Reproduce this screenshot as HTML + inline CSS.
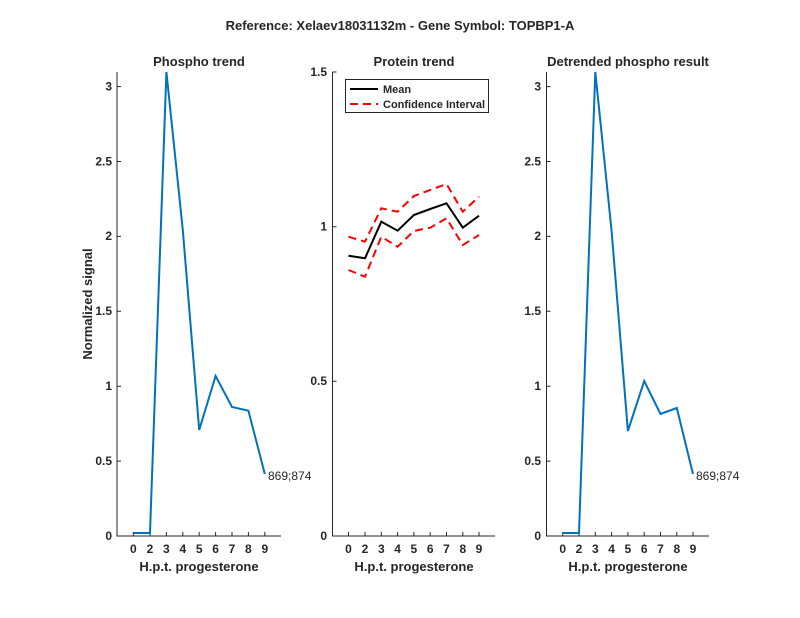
<!DOCTYPE html>
<html><head><meta charset="utf-8"><style>body{margin:0;background:#fff}svg{display:block}text{font-family:"Liberation Sans",sans-serif;fill:#262626}</style></head><body>
<svg width="800" height="618" xmlns="http://www.w3.org/2000/svg">
<text x="400" y="30" font-size="13" font-weight="bold" text-anchor="middle" fill="#000">Reference:  Xelaev18031132m - Gene Symbol:  TOPBP1-A</text>
<g stroke="#262626" stroke-width="1" fill="none">
<path d="M117,72V536H281"/>
<path d="M332.5,72V536H495"/>
<path d="M546.5,72V536H709"/>
</g>
<g stroke="#262626" stroke-width="1">
<path d="M133.3,536v-4M150,536v-4M166.4,536v-4M182.8,536v-4M199.2,536v-4M215.6,536v-4M232,536v-4M248.4,536v-4M264.8,536v-4"/>
<path d="M117,536h4M117,461.1h4M117,386.2h4M117,311.3h4M117,236.4h4M117,161.5h4M117,86.6h4"/>
<path d="M348.5,536v-4M365,536v-4M381.3,536v-4M397.6,536v-4M413.9,536v-4M430.2,536v-4M446.5,536v-4M462.8,536v-4M479,536v-4"/>
<path d="M332.5,536h4M332.5,381.3h4M332.5,226.7h4M332.5,72h4"/>
<path d="M562.7,536v-4M579,536v-4M595.3,536v-4M611.6,536v-4M627.9,536v-4M644.2,536v-4M660.5,536v-4M676.8,536v-4M693,536v-4"/>
<path d="M546.5,536h4M546.5,461.1h4M546.5,386.2h4M546.5,311.3h4M546.5,236.4h4M546.5,161.5h4M546.5,86.6h4"/>
</g>
<g font-size="12" font-weight="bold" text-anchor="middle">
<text x="133.3" y="553">0</text><text x="150" y="553">2</text><text x="166.4" y="553">3</text><text x="182.8" y="553">4</text><text x="199.2" y="553">5</text><text x="215.6" y="553">6</text><text x="232" y="553">7</text><text x="248.4" y="553">8</text><text x="264.8" y="553">9</text>
<text x="348.5" y="553">0</text><text x="365" y="553">2</text><text x="381.3" y="553">3</text><text x="397.6" y="553">4</text><text x="413.9" y="553">5</text><text x="430.2" y="553">6</text><text x="446.5" y="553">7</text><text x="462.8" y="553">8</text><text x="479" y="553">9</text>
<text x="562.7" y="553">0</text><text x="579" y="553">2</text><text x="595.3" y="553">3</text><text x="611.6" y="553">4</text><text x="627.9" y="553">5</text><text x="644.2" y="553">6</text><text x="660.5" y="553">7</text><text x="676.8" y="553">8</text><text x="693" y="553">9</text>
</g>
<g font-size="12" font-weight="bold" text-anchor="end">
<text x="112" y="540">0</text><text x="112" y="465">0.5</text><text x="112" y="390">1</text><text x="112" y="315">1.5</text><text x="112" y="240">2</text><text x="112" y="165.5">2.5</text><text x="112" y="90.5">3</text>
<text x="327" y="540">0</text><text x="327" y="385">0.5</text><text x="327" y="230.5">1</text><text x="327" y="76">1.5</text>
<text x="541" y="540">0</text><text x="541" y="465">0.5</text><text x="541" y="390">1</text><text x="541" y="315">1.5</text><text x="541" y="240">2</text><text x="541" y="165.5">2.5</text><text x="541" y="90.5">3</text>
</g>
<g font-size="13" font-weight="bold" text-anchor="middle" fill="#000">
<text x="199" y="66" fill="#000">Phospho trend</text>
<text x="414" y="66" fill="#000">Protein trend</text>
<text x="628" y="66" fill="#000">Detrended phospho result</text>
<text x="199" y="571">H.p.t. progesterone</text>
<text x="414" y="571">H.p.t. progesterone</text>
<text x="628" y="571">H.p.t. progesterone</text>
<text transform="translate(92,304) rotate(-90)">Normalized signal</text>
</g>
<polyline fill="none" stroke="#0072BD" stroke-width="2" points="133.3,533 150,533 166.4,72 182.8,230 199.2,430 215.6,376 232,407 248.4,410.7 264.8,474"/>
<text x="268" y="480" font-size="12">869;874</text>
<polyline fill="none" stroke="#0072BD" stroke-width="2" points="562.7,533 579,533 595.3,72 611.6,231 627.9,431 644.2,381 660.5,414 676.8,408 693,474"/>
<text x="696" y="480" font-size="12">869;874</text>
<g fill="none" stroke-width="2">
<polyline stroke="#f00" stroke-dasharray="8,5" points="348.5,236.7 365,241.7 381.3,208.3 397.6,211.7 413.9,196 430.2,190 446.5,184 462.8,211.7 479,196.7"/>
<polyline stroke="#f00" stroke-dasharray="8,5" points="348.5,270 365,276.7 381.3,236.7 397.6,246.7 413.9,231 430.2,227.7 446.5,218.3 462.8,245 479,235"/>
<polyline stroke="#000" points="348.5,255.7 365,258.3 381.3,221.7 397.6,230.7 413.9,215 430.2,209 446.5,203.3 462.8,227.7 479,215.7"/>
</g>
<rect x="345.5" y="79.5" width="143" height="33" fill="#fff" stroke="#262626" stroke-width="1"/>
<line x1="350" y1="89" x2="378" y2="89" stroke="#000" stroke-width="2"/>
<line x1="350" y1="104" x2="378" y2="104" stroke="#f00" stroke-width="2" stroke-dasharray="8,5"/>
<text x="383" y="93" font-size="11" font-weight="bold" fill="#000">Mean</text>
<text x="383" y="108" font-size="11" font-weight="bold" fill="#000">Confidence Interval</text>
</svg>
</body></html>
